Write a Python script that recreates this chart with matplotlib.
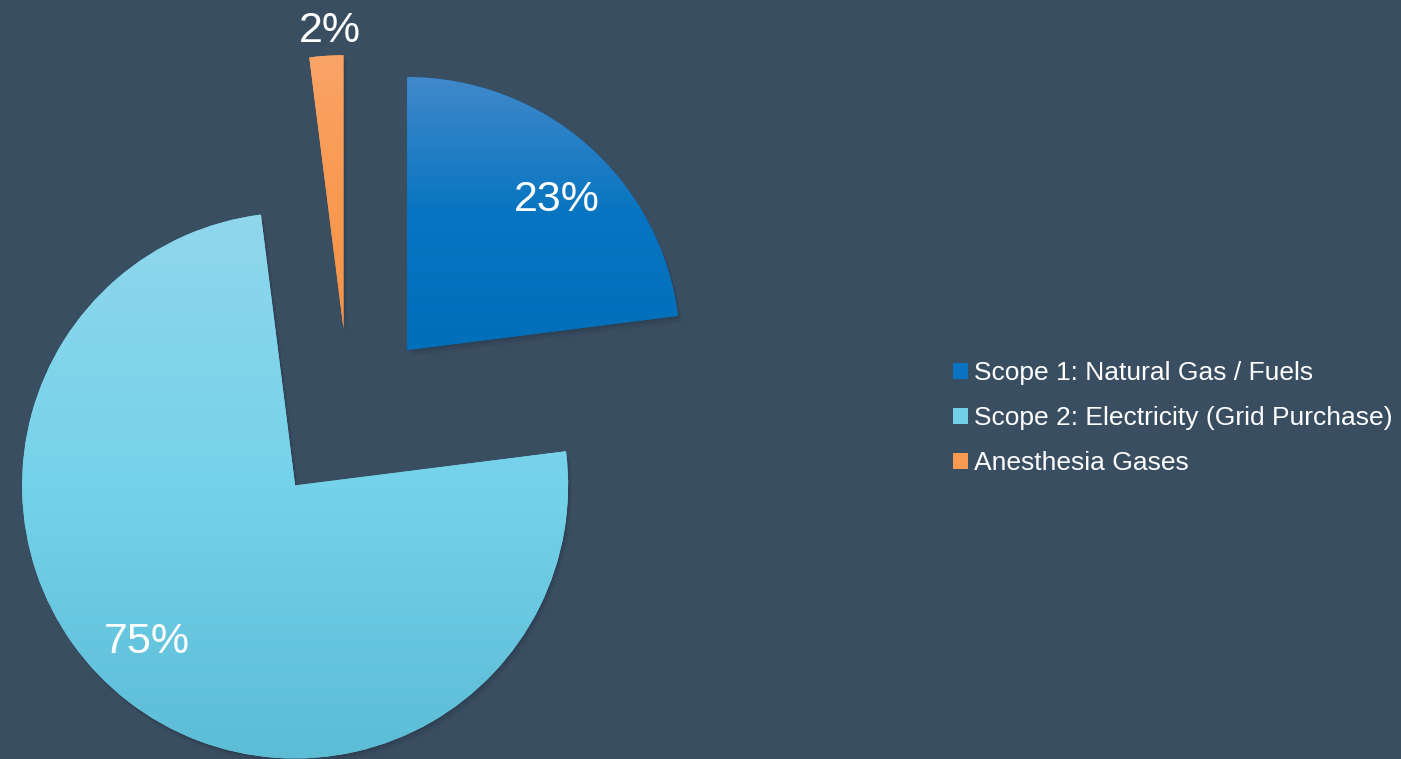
import numpy as np
import matplotlib.pyplot as plt
from matplotlib.colors import LinearSegmentedColormap
from matplotlib.patches import Wedge

plt.rcParams['font.family'] = ['Liberation Sans', 'DejaVu Sans']

# data
sources = ['Scope 1: Natural Gas / Fuels',
           'Scope 2: Electricity (Grid Purchase)',
           'Anesthesia Gases']
shares = [23, 75, 2]

# look
bg = '#3a4e62'
solid = ['#0a74c2', '#72cfe8', '#f89a52']
ramps = [['#4189ca', '#0775c1', '#006fba'],
         ['#90d7ec', '#74d2ea', '#5dbcd6'],
         ['#faa466', '#f89a52', '#f7944a']]
pct_pos = [(0.775, 45.0), (0.79, -133.5), (1.09, 92.7)]  # (radius, angle) from wedge apex

W, H = 1401, 759
R = 273.0          # pie radius in px
cx, cy = 349, 759 - 416

fig = plt.figure(figsize=(W / 100, H / 100), dpi=100, facecolor=bg)
ax = fig.add_axes([0, 0, 1, 1])
ax.set_facecolor(bg)

wedges, _ = ax.pie(shares, colors=solid, startangle=90, counterclock=False,
                   explode=[0.322] * 3, radius=1.0,
                   wedgeprops=dict(linewidth=0, zorder=3))

px = 1.0 / R
for i, w in enumerate(wedges):
    x0, y0 = w.center
    # soft shadow to the lower right
    for k, a in zip([7, 5, 3, 1.5], [0.06, 0.08, 0.10, 0.14]):
        sh = Wedge((x0 + k * px * 0.6, y0 - k * px), w.r, w.theta1, w.theta2,
                   facecolor='#1c2836', alpha=a, linewidth=0, zorder=2)
        ax.add_patch(sh)
    # vertical gradient fill over the wedge's own bounding box
    verts = w.get_patch_transform().transform(w.get_path().vertices)
    ymin, ymax = verts[:, 1].min(), verts[:, 1].max()
    xmin, xmax = verts[:, 0].min(), verts[:, 0].max()
    cmap = LinearSegmentedColormap.from_list('g%d' % i, ramps[i])
    grad = np.linspace(0, 1, 256).reshape(-1, 1)
    im = ax.imshow(grad, cmap=cmap, aspect='auto', origin='upper',
                   extent=(xmin, xmax, ymin, ymax), zorder=4,
                   interpolation='bilinear')
    im.set_clip_path(w)

    r, ang = pct_pos[i]
    t = np.deg2rad(ang)
    ax.text(x0 + r * np.cos(t), y0 + r * np.sin(t), '%d%%' % shares[i],
            color='white', fontsize=31, ha='center', va='center', zorder=6)

ax.set_xlim(-cx / R, (W - cx) / R)
ax.set_ylim(-cy / R, (H - cy) / R)
ax.set_aspect('equal')
ax.axis('off')

leg = fig.legend(wedges, sources, loc='center left',
                 bbox_to_anchor=(953 / W, 1 - 418 / H), frameon=False,
                 fontsize=19, labelcolor='white', handlelength=0.55,
                 handleheight=0.55, handletextpad=0.25, labelspacing=0.8,
                 borderpad=0, borderaxespad=0)

fig.savefig('out.png', dpi=100, facecolor=bg)
